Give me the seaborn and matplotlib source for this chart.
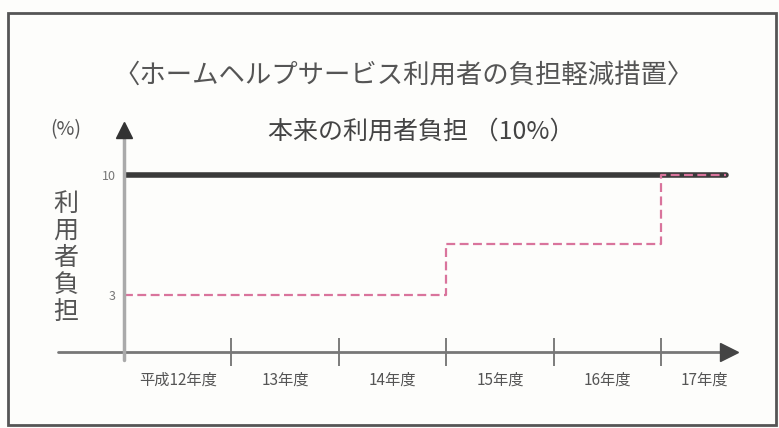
import matplotlib
matplotlib.use("Agg")
import matplotlib.pyplot as plt
from matplotlib.lines import Line2D
from matplotlib.patches import Rectangle
import seaborn as sns
import pandas as pd

# ---- data ----
years = ["平成12年度", "13年度", "14年度", "15年度", "16年度", "17年度"]
reduced_burden = [3, 3, 3, 6, 6, 10]      # 軽減措置後の利用者負担 (%)
standard_burden = [10, 10, 10, 10, 10, 10]  # 本来の利用者負担 (%)
ytick_values = [3, 10]
ytick_labels = ["3", "10"]
title = "〈ホームヘルプサービス利用者の負担軽減措置〉"
note = "本来の利用者負担 （10%）"
ylabel = "利用者負担"

sns.set_theme(style="white")
plt.rcParams["font.family"] = ["Noto Sans CJK JP", "DejaVu Sans"]

W, H = 779, 428
fig = plt.figure(figsize=(W / 100, H / 100), dpi=100)
fig.patch.set_facecolor("#fdfdfb")

def fx(px):
    return px / W

def fy(py):
    return 1 - py / H

# frame
fig.add_artist(Rectangle((fx(8), fy(425)), fx(776) - fx(8), fy(13) - fy(425),
                         transform=fig.transFigure, fill=False,
                         edgecolor="#555555", lw=2))

ax = fig.add_axes([fx(124), fy(352), fx(745) - fx(124), fy(125) - fy(352)])
ax.set_facecolor("none")

# extend last step to the end of the visible period
end_x = 5.6
xs = list(range(len(years))) + [end_x]
df = pd.DataFrame({
    "x": xs + xs,
    "y": standard_burden + [standard_burden[-1]] + reduced_burden + [reduced_burden[-1]],
    "s": ["standard"] * len(xs) + ["reduced"] * len(xs),
})

sns.lineplot(data=df[df.s == "standard"], x="x", y="y", ax=ax,
             color="#3a3a3a", lw=4, drawstyle="steps-post", estimator=None)
sns.lineplot(data=df[df.s == "reduced"], x="x", y="y", ax=ax,
             color="#d9749c", lw=1.6, linestyle=(0, (4, 2)),
             drawstyle="steps-post", estimator=None)

ax.set_xlim(0, 5.78)
ax.set_ylim(-0.3, 12.9)
for s in ax.spines.values():
    s.set_visible(False)

ax.set_xlabel("")
ax.set_ylabel("")

# x ticks: boundaries (marks) and labels in slot centres
ax.set_xticks([1, 2, 3, 4, 5])
ax.set_xticklabels([])
ax.tick_params(axis="x", which="major", direction="inout", length=20,
               width=1.2, color="#666666", bottom=True)
label_pos = [i + 0.5 for i in range(len(years) - 1)] + [5.4]
ax.set_xticks(label_pos, minor=True)
ax.set_xticklabels(years, minor=True, fontsize=11, color="#555555")
ax.tick_params(axis="x", which="minor", length=0, pad=14)

ax.set_yticks(ytick_values)
ax.set_yticklabels(ytick_labels, fontsize=9, color="#777777")
ax.tick_params(axis="y", length=0, pad=6, left=True)

# axes lines with arrowheads
axis_col = "#777777"
fig.add_artist(Line2D([fx(58), fx(725)], [fy(352), fy(352)],
                      transform=fig.transFigure, color=axis_col, lw=2))
fig.add_artist(Line2D([fx(124), fx(124)], [fy(360), fy(136)],
                      transform=fig.transFigure, color="#aaaaaa", lw=2.5))
fig.add_artist(Line2D([fx(729)], [fy(352)], transform=fig.transFigure,
                      marker=">", markersize=13, color="#444444", lw=0))
fig.add_artist(Line2D([fx(124)], [fy(130)], transform=fig.transFigure,
                      marker="^", markersize=11, color="#333333", lw=0))

# texts
fig.text(fx(404), fy(75), title, ha="center", va="center",
         fontsize=19, color="#555555")
fig.text(fx(66), fy(130), "(%)", ha="center", va="center",
         fontsize=14, color="#555555")
fig.text(fx(421), fy(132), note, ha="center", va="center",
         fontsize=18, color="#444444")
fig.text(fx(66), fy(258), "\n".join(ylabel), ha="center", va="center",
         fontsize=18, color="#555555", linespacing=1.05)

fig.savefig("out.png", dpi=100, facecolor=fig.get_facecolor())
